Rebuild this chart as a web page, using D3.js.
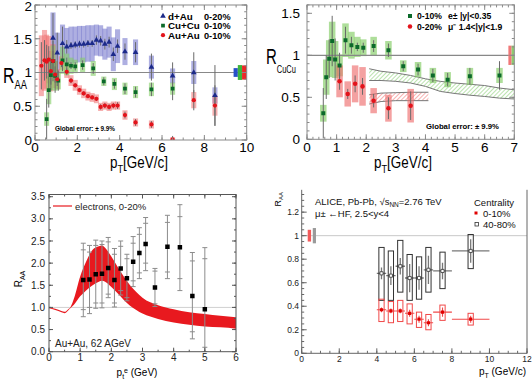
<!DOCTYPE html>
<html>
<head>
<meta charset="utf-8">
<script src="https://cdn.jsdelivr.net/npm/d3@7"></script>
<style>
body { margin: 0; background: #fff; }
svg { display: block; font-family: "Liberation Sans", Arial, sans-serif; }
</style>
</head>
<body>
<svg id="fig" width="532" height="381"></svg>
<script>
// ---------- top-left panel: d+Au / Cu+Cu / Au+Au ----------
var dauPt   = [0.85, 1.05, 1.3, 1.5, 1.7, 1.9, 2.1, 2.3, 2.5, 2.7, 2.9, 3.1, 3.3, 3.5, 3.7, 3.9, 4.25, 4.75, 5.5, 6.5, 7.5, 8.5];
var dauR    = [1.51, 1.29, 1.43, 1.38, 1.40, 1.41, 1.42, 1.42, 1.43, 1.43, 1.48, 1.47, 1.42, 1.45, 1.27, 1.39, 1.31, 1.30, 1.08, 0.95, 1.00, 0.66];
var dauSys  = [0.38, 0.30, 0.28, 0.28, 0.28, 0.27, 0.27, 0.27, 0.27, 0.27, 0.23, 0.23, 0.23, 0.23, 0.25, 0.25, 0.20, 0.19, 0.17, 0.11, 0.17, 0.12];
var dauStat = [0.37, 0.30, 0.25, 0.10, 0.05, 0.05, 0.05, 0.05, 0.05, 0.05, 0.07, 0.07, 0.08, 0.08, 0.10, 0.10, 0.12, 0.15, 0.20, 0.20, 0.30, 0.45];

var cucuPt   = [0.55, 0.65, 0.75, 0.85, 0.95, 1.1, 1.3, 1.5, 1.7, 1.9, 2.25, 2.75, 3.25, 3.75, 4.25, 4.75, 5.5, 6.5];
var cucuR    = [0.31, 0.74, 0.96, 1.17, 0.95, 0.88, 1.18, 1.12, 1.10, 1.09, 1.11, 1.06, 0.87, 0.83, 0.76, 0.71, 0.75, 0.76];
var cucuSys  = [0.10, 0.21, 0.22, 0.23, 0.22, 0.13, 0.20, 0.16, 0.12, 0.10, 0.11, 0.11, 0.07, 0.09, 0.09, 0.09, 0.10, 0.09];
var cucuStat = [0.30, 0.26, 0.23, 0.30, 0.25, 0.15, 0.16, 0.10, 0.05, 0.06, 0.07, 0.08, 0.06, 0.07, 0.08, 0.08, 0.10, 0.17];

var auauPt   = [0.3, 0.45, 0.55, 0.65, 0.75, 0.85, 0.95, 1.05, 1.25, 1.5, 1.7, 1.9, 2.1, 2.3, 2.5, 2.7, 2.9, 3.1, 3.3, 3.5, 3.7, 3.9, 4.25, 4.75, 5.5, 6.5, 7.5, 8.5];
var auauR    = [1.10, 1.18, 1.16, 1.19, 1.02, 1.17, 0.97, 0.90, 1.14, 1.01, 0.88, 0.81, 0.74, 0.69, 0.65, 0.63, 0.61, 0.49, 0.51, 0.49, 0.51, 0.51, 0.37, 0.26, 0.23, 0.01, 0.59, 0.51];
var auauSys  = [0.45, 0.45, 0.40, 0.35, 0.30, 0.25, 0.20, 0.15, 0.10, 0.09, 0.08, 0.08, 0.07, 0.07, 0.065, 0.065, 0.065, 0.06, 0.06, 0.06, 0.06, 0.06, 0.07, 0.06, 0.06, 0.03, 0.12, 0.15];
var auauStat = [0.35, 0.30, 0.25, 0.20, 0.20, 0.15, 0.12, 0.10, 0.06, 0.05, 0.04, 0.03, 0.03, 0.03, 0.03, 0.03, 0.03, 0.04, 0.04, 0.04, 0.04, 0.05, 0.05, 0.05, 0.05, 0.05, 0.15, 0.30];

var globalA = [0.065, 0.11, 0.105];   // d+Au, Cu+Cu, Au+Au normalisation boxes

// ---------- top-right panel: Cu+Cu e / mu ----------
var muPt   = [1.1, 1.375, 1.625, 1.875, 2.25, 2.75, 3.5];
var muR    = [0.69, 0.54, 0.66, 0.63, 0.46, 0.37, 0.40];
var muSys  = [0.19, 0.15, 0.22, 0.23, 0.15, 0.16, 0.20];
var muStat = [0.10, 0.06, 0.10, 0.10, 0.08, 0.13, 0.17];

var greenBandPt = [2.1, 2.5, 3.0, 3.5, 4.0, 4.5, 5.0, 5.5, 6.0, 6.5, 7.0];
var greenBandHi = [0.84, 0.81, 0.79, 0.76, 0.72, 0.69, 0.67, 0.655, 0.64, 0.61, 0.59];
var greenBandLo = [0.70, 0.70, 0.69, 0.67, 0.63, 0.57, 0.545, 0.525, 0.51, 0.49, 0.48];
var redBandPt = [2.1, 2.5, 3.0, 3.5, 4.1];
var redBandHi = [0.53, 0.55, 0.555, 0.56, 0.56];
var redBandLo = [0.42, 0.45, 0.46, 0.46, 0.46];
var globalB = [0.115, 0.115];

// ---------- bottom-left panel: electrons Au+Au 62 GeV ----------
var elPt   = [1.1, 1.3, 1.5, 1.7, 1.9, 2.1, 2.3, 2.5, 2.7, 2.9, 3.1, 3.4, 3.8, 4.2, 4.6, 5.0];
var elR    = [1.62, 1.63, 1.75, 1.76, 1.89, 1.62, 1.88, 1.66, 2.03, 2.23, 2.43, 1.45, 2.37, 2.36, 1.26, 0.96];
var elHi   = [2.45, 2.40, 2.52, 2.50, 2.58, 2.33, 2.50, 2.20, 2.60, 2.80, 3.03, 1.88, 3.08, 3.32, 2.24, 2.35];
var elLo   = [0.79, 0.86, 0.98, 0.99, 1.22, 1.01, 1.28, 1.15, 1.47, 1.65, 1.83, 1.02, 1.65, 1.38, 0.29, 0.00];
var elInHi = [2.30, 2.25, 2.40, 2.42, 2.48, 2.20, 2.38, 2.10, 2.45, 2.65, 2.90, 1.82, 2.92, 3.05, 2.05, 2.10];
var elInLo = [0.95, 1.00, 1.10, 1.10, 1.30, 1.10, 1.38, 1.22, 1.60, 1.78, 2.00, 1.08, 1.80, 1.65, 0.45, 0.10];

var thPt = [0, 0.2, 0.4, 0.5, 0.6, 0.7, 0.8, 1.0, 1.2, 1.4, 1.6, 1.7, 1.8, 2.0, 2.2, 2.4, 2.6, 2.8, 3.0, 3.5, 4.0, 4.5, 5.0, 5.5, 6.0];
var thHi = [1.00, 0.97, 0.92, 0.90, 0.95, 1.02, 1.20, 1.70, 2.05, 2.30, 2.38, 2.40, 2.35, 2.15, 1.92, 1.70, 1.50, 1.35, 1.22, 1.05, 0.96, 0.89, 0.85, 0.81, 0.78];
var thLo = [0.98, 0.94, 0.89, 0.87, 0.92, 0.99, 1.06, 1.25, 1.39, 1.50, 1.58, 1.60, 1.58, 1.46, 1.32, 1.17, 1.04, 0.94, 0.86, 0.74, 0.66, 0.61, 0.57, 0.55, 0.52];

// ---------- bottom-right panel: ALICE muons ----------
var hfPt   = [4.25, 4.75, 5.25, 5.75, 6.25, 6.75, 7.5, 9.0];
var hfBin  = [0.25, 0.25, 0.25, 0.25, 0.25, 0.25, 0.5, 1.0];
var centR    = [0.37, 0.36, 0.36, 0.34, 0.29, 0.26, 0.35, 0.29];
var centHi   = [0.46, 0.44, 0.45, 0.42, 0.35, 0.33, 0.41, 0.34];
var centLo   = [0.27, 0.26, 0.27, 0.25, 0.22, 0.20, 0.28, 0.24];
var centStat = [0.02, 0.02, 0.02, 0.03, 0.03, 0.03, 0.04, 0.03];
var periR    = [0.68, 0.66, 0.74, 0.64, 0.64, 0.71, 0.70, 0.87];
var periHi   = [0.90, 0.87, 0.96, 0.84, 0.82, 0.90, 0.86, 1.01];
var periLo   = [0.45, 0.45, 0.52, 0.45, 0.46, 0.52, 0.55, 0.72];
var periStat = [0.05, 0.08, 0.07, 0.12, 0.10, 0.12, 0.07, 0.10];
var globalD = [0.05, 0.065];

var svg = d3.select("#fig");
var defs = svg.append("defs");

function zip(pt, r, a, b) {
    return pt.map(function (p, i) { return { x: p, y: r[i], a: a ? a[i] : 0, b: b ? b[i] : 0 }; });
}

function range(a, b, step) {
    var out = [];
    var n = Math.round((b - a) / step);
    for (var i = 0; i <= n; i++) out.push(+(a + i * step).toFixed(6));
    return out;
}

function clip(id, x, y) {
    defs.append("clipPath").attr("id", id).append("rect")
        .attr("x", x.range()[0]).attr("y", y.range()[1])
        .attr("width", x.range()[1] - x.range()[0])
        .attr("height", y.range()[0] - y.range()[1]);
    return "url(#" + id + ")";
}

// ticks pointing inwards on the chosen sides
function ticks(g, x, y, o) {
    var x0 = x.range()[0], x1 = x.range()[1], y0 = y.range()[0], y1 = o.top;
    var t = g.append("g").attr("stroke", o.color).attr("stroke-width", 1);
    function xt(vals, len) {
        vals.forEach(function (v) {
            var px = x(v);
            t.append("line").attr("x1", px).attr("x2", px).attr("y1", y0).attr("y2", y0 - len);
            if (o.sides.indexOf("t") >= 0) t.append("line").attr("x1", px).attr("x2", px).attr("y1", y1).attr("y2", y1 + len);
        });
    }
    function yt(vals, len) {
        vals.forEach(function (v) {
            var py = y(v);
            if (py < y1 - 0.5) return;
            t.append("line").attr("x1", x0).attr("x2", x0 + len).attr("y1", py).attr("y2", py);
            if (o.sides.indexOf("r") >= 0) t.append("line").attr("x1", x1).attr("x2", x1 - len).attr("y1", py).attr("y2", py);
        });
    }
    xt(range(x.domain()[0], o.xmax || x.domain()[1], o.xminor), o.minLen);
    xt(range(x.domain()[0], o.xmax || x.domain()[1], o.xmajor), o.majLen);
    yt(range(y.domain()[0], o.ymax, o.yminor), o.minLen);
    yt(range(y.domain()[0], o.ymax, o.ymajor), o.majLen);
}

function sysBoxes(g, data, x, y, hw, fill, op) {
    g.append("g").selectAll("rect").data(data).enter().append("rect")
        .attr("x", function (d) { return x(d.x - hw); })
        .attr("width", function (d) { return x(d.x + hw) - x(d.x - hw); })
        .attr("y", function (d) { return y(d.y + d.a); })
        .attr("height", function (d) { return y(d.y - d.a) - y(d.y + d.a); })
        .attr("fill", fill).attr("fill-opacity", op);
}

function statBars(g, data, x, y, col) {
    g.append("g").selectAll("line").data(data).enter().append("line")
        .attr("x1", function (d) { return x(d.x); }).attr("x2", function (d) { return x(d.x); })
        .attr("y1", function (d) { return y(d.y + d.b); })
        .attr("y2", function (d) { return y(d.y - d.b); })
        .attr("stroke", col).attr("stroke-width", 1);
}

function markers(g, data, x, y, type, size, col) {
    g.append("g").selectAll("path").data(data).enter().append("path")
        .attr("d", d3.symbol().type(type).size(size))
        .attr("transform", function (d) { return "translate(" + x(d.x) + "," + y(d.y) + ")"; })
        .attr("fill", col);
}

// title with subscript, squeezed horizontally like the original
function subTitle(g, px, py, main, sub, fs, sfs, sx, subDy, extra) {
    var t = g.append("text")
        .attr("transform", "translate(" + px + "," + py + ") scale(" + sx + ",1)")
        .attr("font-size", fs).attr("fill", "#000");
    t.append("tspan").text(main);
    t.append("tspan").attr("font-size", sfs).attr("dy", subDy).text(sub);
    if (extra) t.append("tspan").attr("dy", -subDy).text(extra);
    return t;
}

// =============== panel A ===============
var xA = d3.scaleLinear().domain([0, 10]).range([35, 246.7]);
var yA = d3.scaleLinear().domain([0, 2]).range([140, 5]);
var gA = svg.append("g");
var cA = gA.append("g").attr("clip-path", clip("clipA", xA, yA));

var dau = zip(dauPt, dauR, dauSys, dauStat);
var cucu = zip(cucuPt, cucuR, cucuSys, cucuStat);
var auau = zip(auauPt, auauR, auauSys, auauStat);

sysBoxes(cA, dau, xA, yA, 0.12, "rgb(120,122,205)", 0.6);
sysBoxes(cA, auau, xA, yA, 0.12, "rgb(238,110,110)", 0.55);
sysBoxes(cA, cucu, xA, yA, 0.12, "rgb(130,205,100)", 0.6);

cA.append("line").attr("x1", xA(0)).attr("x2", xA(10)).attr("y1", yA(1)).attr("y2", yA(1))
    .attr("stroke", "#888").attr("stroke-width", 1.2);

// global normalisation boxes at the right edge
var gxA = [9.38, 9.58, 9.78, 10.02];
var gcolA = ["rgb(40,80,200)", "rgb(60,180,60)", "rgb(235,40,40)"];
globalA.forEach(function (e, i) {
    cA.append("rect").attr("x", xA(gxA[i])).attr("width", xA(gxA[i + 1]) - xA(gxA[i]))
        .attr("y", yA(1 + e)).attr("height", yA(1 - e) - yA(1 + e)).attr("fill", gcolA[i]);
});

statBars(cA, dau, xA, yA, "#6a6a6a");
statBars(cA, cucu, xA, yA, "#6a6a6a");
statBars(cA, auau, xA, yA, "#6a6a6a");
markers(cA, dau, xA, yA, d3.symbolTriangle, 14, "#1c2a8a");
markers(cA, cucu, xA, yA, d3.symbolSquare, 14, "#0b6a2a");
markers(cA, auau, xA, yA, d3.symbolCircle, 14, "#e3131b");

gA.append("rect").attr("x", xA(0)).attr("y", yA(2)).attr("width", xA(10) - xA(0)).attr("height", yA(0) - yA(2))
    .attr("fill", "none").attr("stroke", "#8a8a8a");
ticks(gA, xA, yA, { top: yA(2), sides: "lrtb", color: "#8a8a8a", xmajor: 2, xminor: 0.5, ymajor: 0.5, yminor: 0.1, ymax: 2, majLen: 5, minLen: 2.5 });

gA.append("g").selectAll("text").data([0, 0.5, 1, 1.5, 2]).enter().append("text")
    .attr("x", 32).attr("y", function (d) { return Math.max(yA(d) + 4.8, 11); })
    .attr("text-anchor", "end").attr("font-size", 13.5).text(function (d) { return d; });
gA.append("g").selectAll("text").data([0, 2, 4, 6, 8, 10]).enter().append("text")
    .attr("x", function (d) { return xA(d); }).attr("y", 152)
    .attr("text-anchor", "middle").attr("font-size", 13.5).text(function (d) { return d; });

subTitle(gA, 3, 83, "R", "AA", 22, 13, 0.72, 6.2);
subTitle(gA, 110, 168, "p", "T", 16, 11, 0.84, 4.5, "[GeV/c]");

var legA = [["d+Au", "0-20%", d3.symbolTriangle, "#1c2a8a"], ["Cu+Cu", "0-10%", d3.symbolSquare, "#0b6a2a"], ["Au+Au", "0-10%", d3.symbolCircle, "#e3131b"]];
legA.forEach(function (l, i) {
    var ly = 16 + i * 9.6;
    gA.append("path").attr("d", d3.symbol().type(l[2]).size(14)).attr("transform", "translate(163," + ly + ")").attr("fill", l[3]);
    gA.append("text").attr("x", 168).attr("y", ly + 3.5).attr("font-size", 9.8).attr("font-weight", "bold").text(l[0]);
    gA.append("text").attr("x", 204).attr("y", ly + 3.5).attr("font-size", 9.2).attr("font-weight", "bold").text(l[1]);
});
gA.append("text").attr("x", 55).attr("y", 131).attr("font-size", 7.5).attr("font-weight", "bold")
    .attr("textLength", 60).attr("lengthAdjust", "spacingAndGlyphs").text("Global error:  \u00b1 9.9%");

// =============== panel B ===============
var xB = d3.scaleLinear().domain([0, 7]).range([307, 514.3]);
var yB = d3.scaleLinear().domain([0, 1.6]).range([139.3, 4.9]);
var gB = svg.append("g");
var cB = gB.append("g").attr("clip-path", clip("clipB", xB, yB));

function hatch(id, col) {
    var p = defs.append("pattern").attr("id", id).attr("patternUnits", "userSpaceOnUse")
        .attr("width", 3).attr("height", 3).attr("patternTransform", "rotate(45)");
    p.append("line").attr("x1", 0).attr("y1", 0).attr("x2", 0).attr("y2", 3).attr("stroke", col).attr("stroke-width", 1);
}
hatch("hatchG", "rgb(120,200,95)");
hatch("hatchR", "rgb(240,100,100)");

function band(g, pt, hi, lo, x, y, fill) {
    var area = d3.area().x(function (d) { return x(d.x); }).y0(function (d) { return y(d.b); }).y1(function (d) { return y(d.a); });
    var line = d3.line().x(function (d) { return x(d.x); });
    var d = zip(pt, pt.map(function () { return 0; }), hi, lo);
    g.append("path").datum(d).attr("d", area).attr("fill", fill);
    g.append("path").datum(d).attr("d", line.y(function (e) { return y(e.a); })).attr("fill", "none").attr("stroke", "#777").attr("stroke-width", 1);
    g.append("path").datum(d).attr("d", line.y(function (e) { return y(e.b); })).attr("fill", "none").attr("stroke", "#777").attr("stroke-width", 1);
}
band(cB, greenBandPt, greenBandHi, greenBandLo, xB, yB, "url(#hatchG)");
band(cB, redBandPt, redBandHi, redBandLo, xB, yB, "url(#hatchR)");

var mu = zip(muPt, muR, muSys, muStat);
sysBoxes(cB, cucu, xB, yB, 0.11, "rgb(130,205,100)", 0.65);
sysBoxes(cB, mu, xB, yB, 0.11, "rgb(238,110,110)", 0.65);

cB.append("line").attr("x1", xB(0)).attr("x2", xB(7)).attr("y1", yB(1)).attr("y2", yB(1))
    .attr("stroke", "#888").attr("stroke-width", 1.2);
var gxB = [6.8, 6.91, 7.02];
var gcolB = ["rgb(240,120,120)", "rgb(140,205,110)"];
globalB.forEach(function (e, i) {
    cB.append("rect").attr("x", xB(gxB[i])).attr("width", xB(gxB[i + 1]) - xB(gxB[i]))
        .attr("y", yB(1 + e)).attr("height", yB(1 - e) - yB(1 + e)).attr("fill", gcolB[i]);
});

statBars(cB, cucu, xB, yB, "#6a6a6a");
statBars(cB, mu, xB, yB, "#6a6a6a");
markers(cB, cucu, xB, yB, d3.symbolSquare, 16, "#0b6a2a");
markers(cB, mu, xB, yB, d3.symbolCircle, 16, "#e3131b");

gB.append("rect").attr("x", xB(0)).attr("y", yB(1.6)).attr("width", xB(7) - xB(0)).attr("height", yB(0) - yB(1.6))
    .attr("fill", "none").attr("stroke", "#8a8a8a");
ticks(gB, xB, yB, { top: yB(1.6), sides: "lrtb", color: "#8a8a8a", xmajor: 1, xminor: 0.2, ymajor: 0.5, yminor: 0.1, ymax: 1.6, majLen: 5, minLen: 2.5 });

gB.append("g").selectAll("text").data([0, 0.5, 1, 1.5]).enter().append("text")
    .attr("x", 300).attr("y", function (d) { return yB(d) + 4.8; })
    .attr("text-anchor", "end").attr("font-size", 13.5).text(function (d) { return d; });
gB.append("g").selectAll("text").data(d3.range(0, 8)).enter().append("text")
    .attr("x", function (d) { return xB(d); }).attr("y", 152)
    .attr("text-anchor", "middle").attr("font-size", 13.5).text(function (d) { return d; });

subTitle(gB, 266, 64, "R", "CuCu", 22, 11, 0.68, 8.5);
subTitle(gB, 374, 168, "p", "T", 16, 11, 0.84, 4.5, "[GeV/c]");

var legB = [["0-10%", "e\u00b1 |y|<0.35", d3.symbolSquare, "#0b6a2a"], ["0-20%", "\u03bc\u207b 1.4<|y|<1.9", d3.symbolCircle, "#e3131b"]];
legB.forEach(function (l, i) {
    var ly = 16 + i * 10.6;
    gB.append("path").attr("d", d3.symbol().type(l[2]).size(16)).attr("transform", "translate(410," + ly + ")").attr("fill", l[3]);
    gB.append("text").attr("x", 417).attr("y", ly + 3.3).attr("font-size", 8.6).attr("font-weight", "bold").text(l[0]);
    gB.append("text").attr("x", 448).attr("y", ly + 3.3).attr("font-size", 8.6).attr("font-weight", "bold").text(l[1]);
});
gB.append("text").attr("x", 426).attr("y", 129).attr("font-size", 8).attr("font-weight", "bold")
    .attr("textLength", 73).attr("lengthAdjust", "spacingAndGlyphs").text("Global error:  \u00b1 9.9%");

// =============== panel C ===============
var xC = d3.scaleLinear().domain([0, 6]).range([49, 236]);
var yC = d3.scaleLinear().domain([0, 3.55]).range([351.7, 194.5]);
var gC = svg.append("g");
var cC = gC.append("g").attr("clip-path", clip("clipC", xC, yC));

cC.append("line").attr("x1", xC(0)).attr("x2", xC(6)).attr("y1", yC(1)).attr("y2", yC(1))
    .attr("stroke", "#d0d0d0").attr("stroke-width", 1);
cC.append("path").datum(zip(thPt, thHi, thLo))
    .attr("d", d3.area().curve(d3.curveMonotoneX).x(function (d) { return xC(d.x); })
        .y0(function (d) { return yC(d.a); }).y1(function (d) { return yC(d.y); }))
    .attr("fill", "#e8191f");

var el = elPt.map(function (p, i) { return { x: p, y: elR[i], hi: elHi[i], lo: elLo[i], ih: elInHi[i], il: elInLo[i] }; });
var eg = cC.append("g").attr("stroke", "#8c8c8c").attr("stroke-width", 1);
el.forEach(function (d) {
    var px = xC(d.x);
    eg.append("line").attr("x1", px).attr("x2", px).attr("y1", yC(d.hi)).attr("y2", yC(d.lo));
    [d.hi, d.lo, d.ih, d.il].forEach(function (v) {
        eg.append("line").attr("x1", px - 2.5).attr("x2", px + 2.5).attr("y1", yC(v)).attr("y2", yC(v));
    });
});
markers(cC, el.map(function (d) { return { x: d.x, y: d.y }; }), xC, yC, d3.symbolSquare, 20, "#000");

gC.append("rect").attr("x", xC(0)).attr("y", yC(3.55)).attr("width", xC(6) - xC(0)).attr("height", yC(0) - yC(3.55))
    .attr("fill", "none").attr("stroke", "#555");
ticks(gC, xC, yC, { top: yC(3.55), sides: "lrtb", color: "#555", xmajor: 1, xminor: 0.5, ymajor: 0.5, yminor: 0.25, ymax: 3.5, majLen: 4, minLen: 2 });

gC.append("g").selectAll("text").data(d3.range(0, 3.51, 0.5)).enter().append("text")
    .attr("x", 45).attr("y", function (d) { return yC(d) + 3.6; })
    .attr("text-anchor", "end").attr("font-size", 10).attr("fill", "#222").text(function (d) { return d.toFixed(1); });
gC.append("g").selectAll("text").data(d3.range(0, 7)).enter().append("text")
    .attr("x", function (d) { return xC(d); }).attr("y", 360.5)
    .attr("text-anchor", "middle").attr("font-size", 10).attr("fill", "#222").text(function (d) { return d; });

var tC = gC.append("text").attr("transform", "translate(22,279) rotate(-90)").attr("text-anchor", "middle").attr("font-size", 10);
tC.append("tspan").text("R");
tC.append("tspan").attr("font-size", 7).attr("dy", 2.5).text("AA");
var xtC = gC.append("text").attr("x", 137).attr("y", 376).attr("text-anchor", "middle").attr("font-size", 10);
xtC.append("tspan").text("p");
xtC.append("tspan").attr("font-size", 7).attr("dy", 2.5).text("t");
xtC.append("tspan").attr("font-size", 7).attr("dy", -6).text("e");
xtC.append("tspan").attr("dy", 3.5).text(" (GeV)");

gC.append("line").attr("x1", 53).attr("x2", 72).attr("y1", 206).attr("y2", 206).attr("stroke", "#e8191f").attr("stroke-width", 1.2);
gC.append("text").attr("x", 75).attr("y", 209.5).attr("font-size", 9.5).attr("fill", "#222").text("electrons, 0-20%");
gC.append("text").attr("x", 55).attr("y", 347).attr("font-size", 10).attr("fill", "#222").text("Au+Au, 62 AGeV");

// =============== panel D ===============
var xD = d3.scaleLinear().domain([0, 12]).range([301.7, 527]);
var yD = d3.scaleLinear().domain([0, 1.39]).range([353.3, 189.8]);
var gD = svg.append("g");
var cD = gD.append("g").attr("clip-path", clip("clipD", xD, yD));

cD.append("line").attr("x1", xD(0)).attr("x2", xD(12)).attr("y1", yD(1)).attr("y2", yD(1))
    .attr("stroke", "#c8c8c8").attr("stroke-width", 1);
var gxD = [0.32, 0.5, 0.59, 0.76];
var gcolD = ["#f25a5a", "#9a9a9a"];
globalD.forEach(function (e, i) {
    cD.append("rect").attr("x", xD(gxD[2 * i])).attr("width", xD(gxD[2 * i + 1]) - xD(gxD[2 * i]))
        .attr("y", yD(1 + e)).attr("height", yD(1 - e) - yD(1 + e)).attr("fill", gcolD[i]);
});

function hfSeries(g, r, hi, lo, stat, boxCol, barCol, barW, symType, mCol, open) {
    var d = hfPt.map(function (p, i) { return { x: p, y: r[i], hi: hi[i], lo: lo[i], s: stat[i], w: hfBin[i] }; });
    g.append("g").selectAll("line").data(d).enter().append("line")
        .attr("x1", function (e) { return xD(e.x - e.w); }).attr("x2", function (e) { return xD(e.x + e.w); })
        .attr("y1", function (e) { return yD(e.y); }).attr("y2", function (e) { return yD(e.y); })
        .attr("stroke", barCol).attr("stroke-width", barW);
    g.append("g").selectAll("line").data(d).enter().append("line")
        .attr("x1", function (e) { return xD(e.x); }).attr("x2", function (e) { return xD(e.x); })
        .attr("y1", function (e) { return yD(e.y + e.s); }).attr("y2", function (e) { return yD(e.y - e.s); })
        .attr("stroke", barCol).attr("stroke-width", barW);
    g.append("g").selectAll("rect").data(d).enter().append("rect")
        .attr("x", function (e) { return xD(e.x - 0.14); }).attr("width", xD(0.28) - xD(0))
        .attr("y", function (e) { return yD(e.hi); }).attr("height", function (e) { return yD(e.lo) - yD(e.hi); })
        .attr("fill", "none").attr("stroke", boxCol).attr("stroke-width", 1);
    g.append("g").selectAll("path").data(d).enter().append("path")
        .attr("d", d3.symbol().type(symType).size(10))
        .attr("transform", function (e) { return "translate(" + xD(e.x) + "," + yD(e.y) + ")"; })
        .attr("fill", open ? "#fff" : mCol).attr("stroke", open ? mCol : "none").attr("stroke-width", 0.8);
}
hfSeries(cD, periR, periHi, periLo, periStat, "#333", "#777", 1.3, d3.symbolSquare, "#333", true);
hfSeries(cD, centR, centHi, centLo, centStat, "#f04848", "#f04848", 1.1, d3.symbolSquare, "#e00000", false);

gD.append("path").attr("d", "M" + xD(0) + "," + yD(1.39) + "V" + yD(0) + "H" + xD(12) + "V" + yD(1.39))
    .attr("fill", "none").attr("stroke", "#666");
ticks(gD, xD, yD, { top: yD(1.39), sides: "lb", color: "#666", xmajor: 2, xminor: 0.5, ymajor: 0.2, yminor: 0.05, ymax: 1.35, majLen: 5, minLen: 2.5 });

gD.append("g").selectAll("text").data([0, 0.2, 0.4, 0.6, 0.8, 1, 1.2]).enter().append("text")
    .attr("x", 299).attr("y", function (d) { return yD(d) + 3; })
    .attr("text-anchor", "end").attr("font-size", 8.5).attr("fill", "#222").text(function (d) { return d; });
gD.append("g").selectAll("text").data([0, 2, 4, 6, 8, 10, 12]).enter().append("text")
    .attr("x", function (d) { return xD(d); }).attr("y", 361.5)
    .attr("text-anchor", "middle").attr("font-size", 8.5).attr("fill", "#222").text(function (d) { return d; });

var tD = gD.append("text").attr("transform", "translate(281,192) rotate(-90)").attr("text-anchor", "end").attr("font-size", 9);
tD.append("tspan").text("R");
tD.append("tspan").attr("font-size", 6).attr("dy", 2.2).text("AA");
var xtD = gD.append("text").attr("x", 526).attr("y", 375).attr("text-anchor", "end").attr("font-size", 10);
xtD.append("tspan").text("p");
xtD.append("tspan").attr("font-size", 7).attr("dy", 2.5).text("T");
xtD.append("tspan").attr("dy", -2.5).text(" (GeV/c)");

var al = gD.append("text").attr("x", 315).attr("y", 205).attr("font-size", 9.5).attr("fill", "#111");
al.append("tspan").text("ALICE, Pb-Pb, \u221A");
al.append("tspan").text("s");
al.append("tspan").attr("font-size", 6.5).attr("dy", 2.2).text("NN");
al.append("tspan").attr("dy", -2.2).text("=2.76 TeV");
gD.append("text").attr("x", 315).attr("y", 216.5).attr("font-size", 9.5).attr("fill", "#111").text("\u03bc\u00b1 \u2190HF, 2.5<y<4");
gD.append("text").attr("x", 474).attr("y", 205.5).attr("font-size", 9.5).attr("fill", "#111").text("Centrality");
gD.append("rect").attr("x", 474.5).attr("y", 211.5).attr("width", 3).attr("height", 3).attr("fill", "#e00000");
gD.append("text").attr("x", 483).attr("y", 217).attr("font-size", 9.5).attr("fill", "#111").text("0-10%");
gD.append("rect").attr("x", 475).attr("y", 222.5).attr("width", 3.5).attr("height", 3.5).attr("fill", "#fff").attr("stroke", "#333").attr("stroke-width", 0.8);
gD.append("text").attr("x", 483).attr("y", 228).attr("font-size", 9.5).attr("fill", "#111").text("40-80%");
</script>
</body>
</html>
